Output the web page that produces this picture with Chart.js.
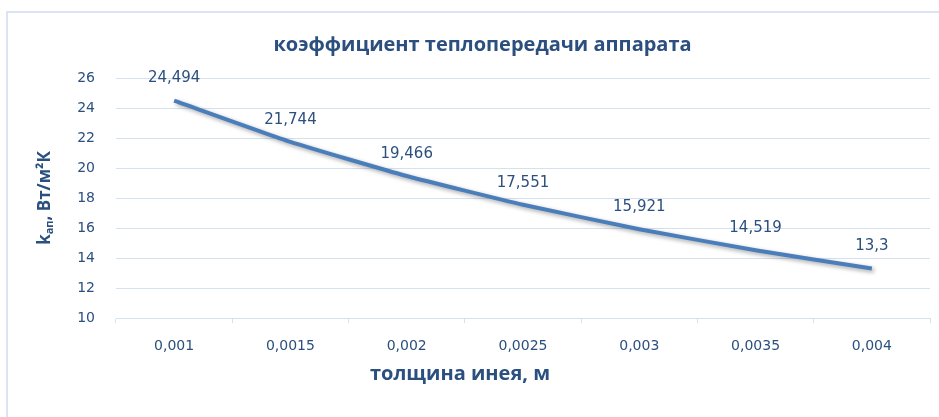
<!DOCTYPE html>
<html>
<head>
<meta charset="utf-8">
<script src="https://cdn.jsdelivr.net/npm/chart.js@4/dist/chart.umd.min.js"></script>
<style>
  html, body { margin: 0; padding: 0; background: #fff; overflow: hidden; }
  #frame { position: absolute; left: 6px; top: 11px; width: 1000px; height: 500px;
           border: 2px solid #dae5f3; box-sizing: border-box; }
  #wrap { position: absolute; left: 0; top: 0; width: 939px; height: 417px; }
</style>
</head>
<body>
<div id="frame"></div>
<div id="wrap"><canvas id="chart" width="939" height="417"></canvas></div>
<script>
// chart data
const thickness = ['0,001', '0,0015', '0,002', '0,0025', '0,003', '0,0035', '0,004'];
const kValues = [24.494, 21.744, 19.466, 17.551, 15.921, 14.519, 13.3];
const yTicks = [10, 12, 14, 16, 18, 20, 22, 24, 26];

const textColor = '#2b4f7e';
const gridColor = '#d6e1f0';

// line shadow like in the excel chart
const shadowPlugin = {
    id: 'lineShadow',
    beforeDatasetsDraw(chart) {
        const ctx = chart.ctx;
        ctx.save();
        ctx.shadowColor = 'rgba(0,0,0,0.35)';
        ctx.shadowBlur = 4;
        ctx.shadowOffsetX = 2;
        ctx.shadowOffsetY = 2;
    },
    afterDatasetsDraw(chart) {
        chart.ctx.restore();
    }
};

// values above the points
const valueLabels = {
    id: 'valueLabels',
    afterDatasetsDraw(chart) {
        const ctx = chart.ctx;
        const meta = chart.getDatasetMeta(0);
        ctx.save();
        ctx.font = '15px "DejaVu Sans"';
        ctx.fillStyle = textColor;
        ctx.textAlign = 'center';
        ctx.textBaseline = 'middle';
        meta.data.forEach((pt, i) => {
            ctx.fillText(String(kValues[i]).replace('.', ','), pt.x, pt.y - 22);
        });
        ctx.restore();
    }
};

// axis titles (y one has a subscript, x one sits left of centre like in excel)
const axisTitles = {
    id: 'axisTitles',
    afterDraw(chart) {
        const ctx = chart.ctx;
        const big = 'bold 17px "Open Sans"';
        const small = 'bold 11px "Open Sans"';
        const parts = [['k', big, 0], ['ап', small, 5], [', Вт/м²К', big, 0]];
        ctx.save();
        ctx.fillStyle = textColor;
        ctx.textBaseline = 'middle';

        ctx.font = 'bold 20px "Open Sans"';
        ctx.textAlign = 'center';
        ctx.fillText('толщина инея, м', 460, 374);

        ctx.textAlign = 'left';
        ctx.translate(45, 198);
        ctx.rotate(-Math.PI / 2);
        let total = 0;
        parts.forEach(p => { ctx.font = p[1]; total += ctx.measureText(p[0]).width; });
        let x = -total / 2;
        parts.forEach(p => {
            ctx.font = p[1];
            ctx.fillText(p[0], x, p[2]);
            x += ctx.measureText(p[0]).width;
        });
        ctx.restore();
    }
};

new Chart(document.getElementById('chart'), {
    type: 'line',
    data: {
        labels: thickness,
        datasets: [{
            data: kValues,
            borderColor: '#4a7ebb',
            borderWidth: 4,
            tension: 0.15,
            pointRadius: 0,
            fill: false
        }]
    },
    options: {
        responsive: false,
        animation: false,
        layout: { padding: { left: 35, right: 9, top: 0, bottom: 34 } },
        plugins: {
            legend: { display: false },
            tooltip: { enabled: false },
            title: {
                display: true,
                text: 'коэффициент теплопередачи аппарата',
                color: textColor,
                font: { family: 'Open Sans', size: 20, weight: 'bold' },
                padding: { top: 33, bottom: 21 }
            }
        },
        scales: {
            x: {
                offset: true,
                grid: { offset: true, drawOnChartArea: false, drawTicks: true, tickLength: 5, color: gridColor },
                border: { display: true, color: gridColor },
                ticks: { color: textColor, font: { family: 'DejaVu Sans', size: 14 }, padding: 15, maxRotation: 0 },
                afterFit: s => { s.height = 65; }
            },
            y: {
                min: 10,
                max: 26,
                afterBuildTicks: s => { s.ticks = yTicks.map(v => ({ value: v })); },
                grid: { color: gridColor, drawTicks: false },
                border: { display: false },
                ticks: { color: textColor, font: { family: 'DejaVu Sans', size: 14 }, padding: 21 },
                afterFit: s => { s.width = 81; }
            }
        }
    },
    plugins: [shadowPlugin, valueLabels, axisTitles]
});
</script>
</body>
</html>
